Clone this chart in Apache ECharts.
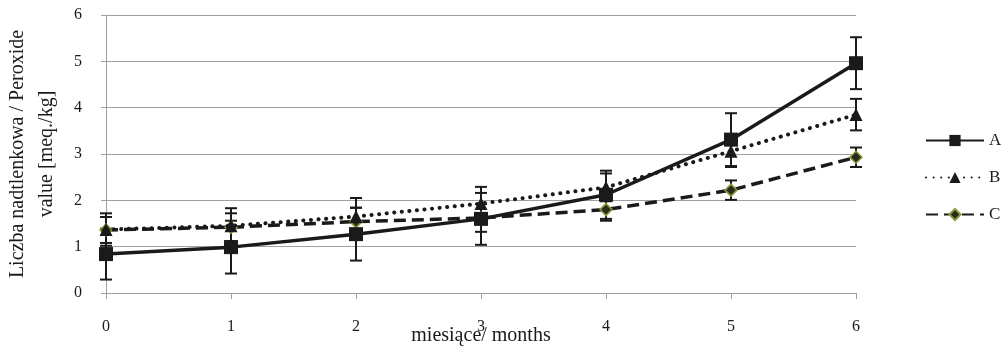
<!DOCTYPE html>
<html><head><meta charset="utf-8">
<script src="https://cdn.jsdelivr.net/npm/echarts@6/dist/echarts.min.js"></script>
<style>html,body{margin:0;padding:0;background:#fff}#c{width:1001px;height:346px}</style>
</head><body><div id="c"></div>
<script>
var months = [0, 1, 2, 3, 4, 5, 6];
var seriesNames = ['A', 'B', 'C'];
var valuesA = [0.84, 0.99, 1.27, 1.60, 2.12, 3.31, 4.96];
var errA    = [0.55, 0.57, 0.57, 0.56, 0.52, 0.57, 0.56];
var valuesB = [1.37, 1.45, 1.65, 1.93, 2.28, 3.06, 3.85];
var errB    = [0.35, 0.38, 0.40, 0.36, 0.30, 0.34, 0.34];
var valuesC = [1.36, 1.42, 1.54, 1.62, 1.80, 2.22, 2.93];
var errC    = [0.28, 0.30, 0.30, 0.30, 0.24, 0.21, 0.21];
var yTicks = [0, 1, 2, 3, 4, 5, 6];

var font = 'Liberation Serif';
var ink = '#1a1a1a';

function pts(v) { return months.map(function (m, i) { return [m, v[i]]; }); }
function errs(v, e) { return months.map(function (m, i) { return [m, v[i] - e[i], v[i] + e[i]]; }); }

function errSeries(v, e) {
  return {
    type: 'custom', silent: true, z: 3,
    data: errs(v, e),
    renderItem: function (params, api) {
      var x = api.value(0);
      var lo = api.coord([x, api.value(1)]);
      var hi = api.coord([x, api.value(2)]);
      var w = 6;
      var st = { stroke: ink, lineWidth: 2 };
      return { type: 'group', children: [
        { type: 'line', shape: { x1: lo[0], y1: lo[1], x2: hi[0], y2: hi[1] }, style: st },
        { type: 'line', shape: { x1: lo[0] - w, y1: lo[1], x2: lo[0] + w, y2: lo[1] }, style: st },
        { type: 'line', shape: { x1: hi[0] - w, y1: hi[1], x2: hi[0] + w, y2: hi[1] }, style: st }
      ] };
    }
  };
}

var chart = echarts.init(document.getElementById('c'));
chart.setOption({
  animation: false,
  backgroundColor: '#fff',
  grid: { left: 106, right: 145, top: 15, bottom: 53, containLabel: false, outerBoundsMode: 'none' },
  legend: {
    orient: 'vertical', left: 920, top: 127, itemGap: 20, itemWidth: 58, itemHeight: 14,
    textStyle: { fontFamily: font, fontSize: 17, color: ink },
    data: seriesNames
  },
  xAxis: {
    type: 'value', min: 0, max: 6, interval: 1,
    name: 'miesiące/ months', nameLocation: 'middle', nameGap: 33, nameMoveOverlap: false,
    nameTextStyle: { fontFamily: font, fontSize: 20, color: ink },
    axisLine: { lineStyle: { color: '#a0a0a0', width: 1 } },
    axisTick: { show: true, length: 6, lineStyle: { color: '#a0a0a0' } },
    splitLine: { show: false },
    axisLabel: { fontFamily: font, fontSize: 16, color: ink, margin: 26,
      formatter: function (v) { return months.indexOf(v) >= 0 ? String(v) : ''; } }
  },
  yAxis: {
    type: 'value', min: 0, max: 6, interval: 1,
    name: 'Liczba nadtlenkowa / Peroxide\nvalue [meq./kg]', nameLocation: 'middle', nameGap: 45, nameMoveOverlap: false,
    nameTextStyle: { fontFamily: font, fontSize: 20, color: ink, lineHeight: 29 },
    axisLine: { show: true, lineStyle: { color: '#a0a0a0', width: 1 } },
    axisTick: { show: true, length: 5, lineStyle: { color: '#a0a0a0' } },
    splitLine: { lineStyle: { color: '#a0a0a0', width: 1 } },
    axisLabel: { fontFamily: font, fontSize: 16, color: ink, margin: 24,
      formatter: function (v) { return yTicks.indexOf(v) >= 0 ? String(v) : ''; } }
  },
  series: [
    errSeries(valuesA, errA),
    errSeries(valuesB, errB),
    errSeries(valuesC, errC),
    { name: 'C', type: 'line', data: pts(valuesC), z: 4,
      lineStyle: { color: ink, width: 3.5, type: [12, 6] },
      symbol: 'diamond', symbolSize: 12,
      itemStyle: { color: '#2b2b1c', borderColor: '#8c9a3c', borderWidth: 1.5 } },
    { name: 'B', type: 'line', data: pts(valuesB), z: 5,
      lineStyle: { color: ink, width: 4, type: [0.1, 7.5], cap: 'round' },
      symbol: 'triangle', symbolSize: 13,
      itemStyle: { color: ink } },
    { name: 'A', type: 'line', data: pts(valuesA), z: 6,
      lineStyle: { color: ink, width: 3.5 },
      symbol: 'rect', symbolSize: 14,
      itemStyle: { color: ink } }
  ]
});
</script></body></html>
